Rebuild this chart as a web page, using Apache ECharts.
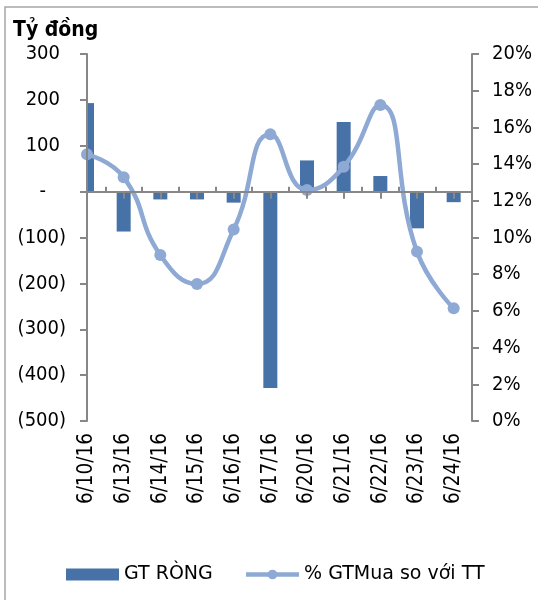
<!DOCTYPE html>
<html>
<head>
<meta charset="utf-8">
<script src="https://cdn.jsdelivr.net/npm/echarts@6/dist/echarts.min.js"></script>
<style>html,body{margin:0;padding:0;background:#fff}#c{width:538px;height:600px}</style>
</head>
<body>
<div id="c"></div>
<script>
const categories = ['6/10/16','6/13/16','6/14/16','6/15/16','6/16/16','6/17/16','6/20/16','6/21/16','6/22/16','6/23/16','6/24/16'];
const netValues = [193, -87, -17, -17, -24, -428, 68, 152, 34, -80, -23];
const buyShare = [14.53, 13.28, 9.05, 7.47, 10.44, 15.62, 12.59, 13.86, 17.22, 9.23, 6.14];
const seriesNames = ['GT RÒNG', '% GTMua so với TT'];
const unitLabel = 'Tỷ đồng';

const FONT = "'DejaVu Sans Condensed', 'DejaVu Sans', sans-serif";
const FONT2 = "'DejaVu Sans', sans-serif";
const AXIS = '#878787';
const BAR = '#4672A8';
const LINE = '#8EA9D3';
const BAR_W = 14;
const idx = categories.map((_, i) => i);
const mids = categories.map((_, i) => i + 0.5);
const xMax = categories.length - 0.5;

function renderBar(params, api) {
  const x = api.value(0), v = api.value(1);
  const p0 = api.coord([x, 0]);
  const p1 = api.coord([x, v]);
  const cs = params.coordSys;
  const shape = echarts.graphic.clipRectByRect(
    {x: p0[0] - BAR_W / 2, y: Math.min(p0[1], p1[1]), width: BAR_W, height: Math.abs(p1[1] - p0[1])},
    {x: cs.x, y: cs.y, width: cs.width, height: cs.height});
  return shape && {type: 'rect', shape: shape, style: api.style()};
}

const chart = echarts.init(document.getElementById('c'), null, {renderer: 'canvas'});
chart.setOption({
  animation: false,
  textStyle: {fontFamily: FONT},
  title: {text: unitLabel, left: 8, top: 15, textStyle: {fontFamily: FONT, fontSize: 21, fontWeight: 'bold', color: '#000'}},
  graphic: [{type: 'rect', z: -1, shape: {x: 5, y: 7, width: 600, height: 700}, style: {fill: 'none', stroke: '#a6a6a6', lineWidth: 1.5}}],
  grid: {left: 87, right: 66, top: 54, height: 367, containLabel: false},
  legend: {
    left: 61, top: 560, itemWidth: 53, itemHeight: 12, itemGap: 31,
    textStyle: {fontFamily: FONT2, fontSize: 19, color: '#000'},
    data: [{name: seriesNames[0], icon: 'rect'},
           {name: seriesNames[1], lineStyle: {width: 4.5, color: LINE}, itemStyle: {color: LINE}}]
  },
  xAxis: [
    {type: 'value', min: 0, max: xMax, position: 'bottom',
     axisLine: {show: false, onZero: false}, axisTick: {show: false}, splitLine: {show: false},
     axisLabel: {customValues: idx, formatter: v => categories[Math.round(v)], rotate: 90, margin: 12,
                 fontFamily: FONT, fontSize: 20.5, color: '#000'}},
    {type: 'value', min: 0, max: xMax, position: 'bottom', z: 10,
     axisLine: {show: true, onZero: true, onZeroAxisIndex: 0, lineStyle: {color: AXIS, width: 2}},
     axisTick: {show: true, inside: true, length: 5, customValues: mids, lineStyle: {color: AXIS, width: 2}},
     axisLabel: {show: false}, splitLine: {show: false}},
    {type: 'value', min: 0, max: xMax, position: 'bottom', z: 10,
     axisLine: {show: false, onZero: true, onZeroAxisIndex: 0},
     axisTick: {show: true, inside: false, length: 7, customValues: idx, lineStyle: {color: AXIS, width: 2}},
     axisLabel: {show: false}, splitLine: {show: false}}
  ],
  yAxis: [
    {type: 'value', min: -500, max: 300, interval: 100, position: 'left', z: 10,
     axisLine: {show: true, onZero: false, lineStyle: {color: AXIS, width: 2}},
     axisTick: {show: true, length: 7, lineStyle: {color: AXIS, width: 2}},
     splitLine: {show: false},
     axisLabel: {margin: 21, formatter: v => v > 0 ? '{p|' + v + '}' : (v === 0 ? '{z|-}' : '{n|(' + (-v) + ')}'),
       rich: {p: {fontFamily: FONT, fontSize: 20, color: '#000', padding: [0, 6, 0, 0]},
              z: {fontFamily: FONT, fontSize: 20, color: '#000', padding: [0, 20, 0, 0]},
              n: {fontFamily: FONT, fontSize: 20, color: '#000'}}}},
    {type: 'value', min: 0, max: 20, interval: 2, position: 'right', z: 10,
     axisLine: {show: true, onZero: false, lineStyle: {color: AXIS, width: 2}},
     axisTick: {show: true, length: 7, lineStyle: {color: AXIS, width: 2}},
     splitLine: {show: false},
     axisLabel: {margin: 20, formatter: v => v + '%', fontFamily: FONT, fontSize: 20, color: '#000'}}
  ],
  series: [
    {name: seriesNames[0], type: 'custom', xAxisIndex: 0, yAxisIndex: 0, renderItem: renderBar,
     itemStyle: {color: BAR}, encode: {x: 0, y: 1}, data: idx.map(i => [i, netValues[i]])},
    {name: seriesNames[1], type: 'line', xAxisIndex: 0, yAxisIndex: 1, smooth: 0.5, clip: false, z: 5,
     symbol: 'circle', symbolSize: 12,
     lineStyle: {color: LINE, width: 4.5}, itemStyle: {color: LINE},
     data: idx.map(i => [i, buyShare[i]])}
  ]
});
</script>
</body>
</html>
